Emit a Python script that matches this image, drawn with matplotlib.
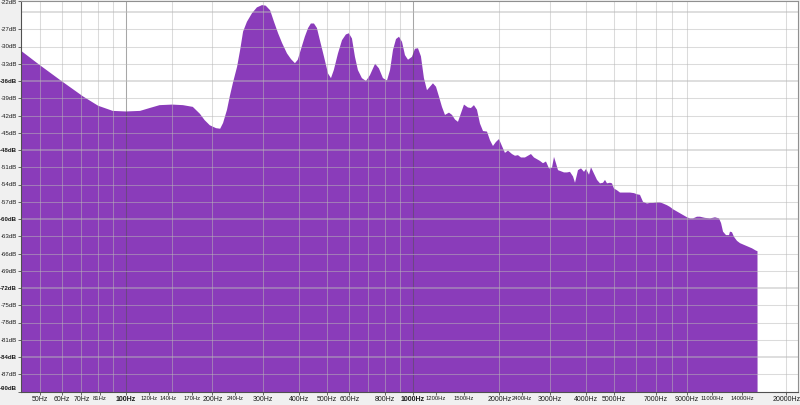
"""
Frequency spectrum (Audacity style)
"""

import matplotlib.pyplot as plt
from matplotlib.ticker import NullLocator

# %%
# Spectrum envelope (Hz, dB)
freq_hz = [
    43, 50, 60, 71, 80, 90, 100, 112, 121, 131,
    145, 158, 171, 181, 188, 196, 206, 213, 218, 225,
    230, 236, 244, 250, 256, 264, 275, 286, 298, 307,
    318, 328, 339, 350, 364, 376, 388, 397, 410, 420,
    431, 441, 452, 463, 474, 490, 506, 518, 530, 548,
    566, 584, 598, 613, 628, 643, 664, 686, 708, 738,
    761, 786, 812, 832, 852, 873, 894, 916, 938, 961,
    992, 1016, 1041, 1066, 1092, 1119, 1146, 1174, 1203, 1232,
    1262, 1293, 1335, 1368, 1401, 1435, 1470, 1506, 1554, 1592,
    1631, 1671, 1712, 1754, 1811, 1855, 1900, 1946, 1994, 2042,
    2092, 2143, 2213, 2267, 2322, 2379, 2456, 2516, 2577, 2640,
    2705, 2770, 2838, 2907, 2978, 3050, 3100, 3150, 3201, 3279,
    3359, 3441, 3524, 3611, 3669, 3758, 3850, 3944, 4008, 4105,
    4171, 4273, 4377, 4484, 4592, 4667, 4742, 4858, 4936, 5016,
    5138, 5264, 5392, 5567, 5703, 5888, 6032, 6179, 6329, 6535,
    6695, 6858, 7081, 7254, 7430, 7674, 7861, 8053, 8315, 8518,
    8726, 9010, 9229, 9455, 9761, 10000, 10410, 10835, 11280, 11650,
    11840, 12030, 12320, 12620, 12720, 12925, 13135, 13455, 13785, 14230,
    14700, 15180, 15670, 15860, 15880,
]
level_db = [
    -30.7, -33.2, -36.1, -38.7, -40.3, -41.2, -41.3, -41.2, -40.7, -40.2,
    -40.1, -40.2, -40.5, -41.7, -42.8, -43.7, -44.2, -44.3, -43.3, -41.0,
    -38.7, -36.3, -33.5, -30.6, -27.4, -25.7, -24.2, -23.2, -22.8, -22.9,
    -23.7, -25.7, -27.7, -29.4, -31.2, -32.2, -32.9, -32.3, -30.0, -28.3,
    -26.8, -26.0, -26.0, -26.8, -28.9, -31.8, -34.7, -35.5, -34.1, -31.2,
    -28.9, -27.9, -27.7, -28.6, -31.8, -34.1, -35.5, -36.0, -35.0, -33.0,
    -33.8, -35.5, -35.9, -34.1, -30.6, -28.7, -28.3, -29.2, -31.5, -32.3,
    -31.8, -30.4, -30.3, -31.7, -35.5, -37.6, -37.0, -36.4, -37.0, -38.7,
    -40.5, -41.9, -41.5, -41.9, -42.7, -43.1, -41.6, -40.1, -40.6, -40.7,
    -40.2, -41.0, -43.4, -44.7, -44.8, -46.3, -47.3, -46.6, -46.1, -47.3,
    -48.5, -48.1, -48.7, -49.0, -48.9, -49.3, -49.3, -49.0, -48.7, -49.3,
    -49.6, -49.9, -50.3, -50.0, -51.2, -51.1, -49.2, -50.3, -51.5, -51.7,
    -51.9, -51.9, -51.8, -52.6, -53.7, -51.5, -51.2, -51.8, -51.3, -52.3,
    -51.0, -52.1, -53.2, -53.8, -53.7, -53.2, -53.8, -53.7, -53.8, -54.7,
    -55.0, -55.4, -55.4, -55.4, -55.4, -55.5, -55.7, -55.8, -57.0, -57.3,
    -57.2, -57.2, -57.1, -57.1, -57.3, -57.6, -57.9, -58.3, -58.7, -59.0,
    -59.3, -59.7, -59.9, -59.9, -59.6, -59.6, -59.8, -59.9, -59.7, -59.9,
    -60.7, -62.2, -62.8, -62.8, -62.2, -62.3, -63.1, -63.8, -64.2, -64.5,
    -64.8, -65.1, -65.5, -65.6, -120,
]

# %%
# Axis ticks and labels
x_tick_freqs = [50, 60, 70, 81, 100, 120, 140, 170, 200, 240, 300, 400, 500,
                600, 800, 1000, 1200, 1500, 2000, 2400, 3000, 4000, 5000,
                7000, 9000, 11000, 14000, 20000]
x_tick_labels = [f"{f}Hz" for f in x_tick_freqs]
x_small = [81, 120, 140, 170, 240, 1200, 1500, 2400, 11000, 14000]
x_bold = [100, 1000]

x_grid_minor = [50, 60, 70, 80, 90, 145, 200, 300, 400, 500, 600, 700, 800,
                900, 2000, 3000, 4000, 5000, 6000, 7000, 8000, 9000, 20000]
x_grid_major = [100, 1000]

y_tick_db = [-22, -27, -30, -33, -36, -39, -42, -45, -48, -51, -54, -57,
             -60, -63, -66, -69, -72, -75, -78, -81, -84, -87, -90]
y_tick_labels = [f"{d}dB" for d in y_tick_db]
y_bold = [-36, -48, -60, -72, -84, -90]
y_grid = list(range(-24, -89, -3))
y_grid_major = [-24, -36, -48, -60, -72, -84]

purple = "#8a3cba"

fig = plt.figure(figsize=(8, 4.05), dpi=100, facecolor="#f0f0f0")
ax = fig.add_axes([21 / 800, 13.5 / 405, 777 / 800, 391 / 405])
ax.set_facecolor("white")

ax.fill_between(freq_hz, level_db, -130, color=purple, lw=0, zorder=1)

# grid drawn over the fill, semi transparent like the original
for f in x_grid_minor:
    ax.axvline(f, color="#b8b8b8", alpha=0.5, lw=0.75, zorder=2)
for f in x_grid_major:
    ax.axvline(f, color="#505050", alpha=0.5, lw=0.75, zorder=2)
for d in y_grid:
    lw = 1.3 if d in y_grid_major else 0.75
    ax.axhline(d, color="#b8b8b8", alpha=0.5, lw=lw, zorder=2)

ax.set_xscale("log")
ax.set_xlim(43.1, 21950)
ax.set_ylim(-90, -22)
ax.xaxis.set_minor_locator(NullLocator())
ax.yaxis.set_minor_locator(NullLocator())

ax.set_xticks(x_tick_freqs, x_tick_labels, family="Liberation Sans")
ax.set_yticks(y_tick_db, y_tick_labels, family="Liberation Sans")
ax.tick_params(axis="both", length=2, width=0.6, color="#505050",
               labelcolor="#1a1a1a")
ax.tick_params(axis="x", pad=1.5)
ax.tick_params(axis="y", pad=0.8)

for lab, f in zip(ax.get_xticklabels(), x_tick_freqs):
    if f in x_small:
        lab.set_fontsize(4.2)
    else:
        lab.set_fontsize(5.0)
    if f in x_bold:
        lab.set_fontweight("bold")

for lab, d in zip(ax.get_yticklabels(), y_tick_db):
    lab.set_fontsize(4.4)
    if d in y_bold:
        lab.set_fontweight("bold")
    if d == -22:
        lab.set_va("top")
    elif d == -90:
        lab.set_va("bottom")

for side in ["top", "right"]:
    ax.spines[side].set_color("#909090")
    ax.spines[side].set_linewidth(0.8)
for side in ["left", "bottom"]:
    ax.spines[side].set_color("#505050")
    ax.spines[side].set_linewidth(0.8)
for s in ax.spines.values():
    s.set_zorder(3)

fig.savefig("out.png", dpi=100, facecolor=fig.get_facecolor())
